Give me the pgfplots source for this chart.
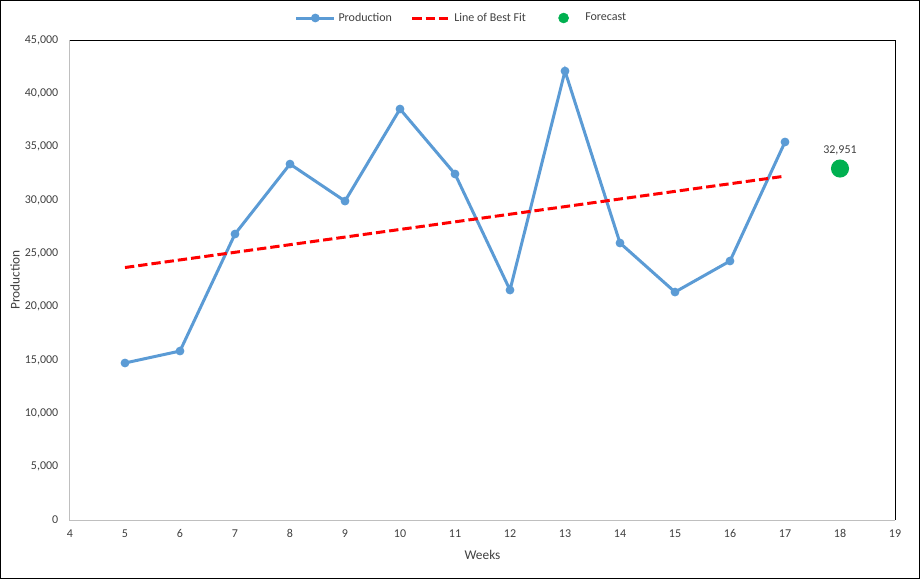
\documentclass[border=0pt]{standalone}
\usepackage{fontspec}
\setmainfont{Carlito}
\usepackage{pgfplots}
\pgfplotsset{compat=1.18}
\definecolor{prodblue}{HTML}{5B9BD5}
\definecolor{fcgreen}{HTML}{00B050}
\definecolor{txt}{HTML}{404040}
\definecolor{axgray}{HTML}{BFBFBF}
\begin{document}
\begin{tikzpicture}
\begin{axis}[
  name=ax,
  at={(0,0)}, anchor=south west,
  scale only axis,
  width=618.75pt, height=360pt,
  xmin=4, xmax=19, ymin=0, ymax=45000,
  xtick={4,5,...,19},
  ytick={0,5000,...,45000},
  scaled y ticks=false,
  /pgf/number format/assume math mode=true,
  /pgf/number format/1000 sep={,},
  major tick length=0pt,
  axis line style={draw=none},
  clip=false,
  tick label style={font=\fontsize{9}{11}\selectfont, text=txt},
  every x tick label/.append style={anchor=center, yshift=-10.1pt},
  every y tick label/.append style={anchor=east, xshift=-5.25pt},
  xlabel={Weeks}, ylabel={Production},
  every axis x label/.style={at={(axis description cs:0.5,0)}, anchor=center, yshift=-26.25pt, font=\fontsize{10}{12}\selectfont, text=txt},
  every axis y label/.style={at={(axis description cs:0,0.5)}, xshift=-41.25pt, rotate=90, anchor=center, font=\fontsize{10}{12}\selectfont, text=txt},
  legend columns=3,
  legend style={draw=none, fill=none, at={(rel axis cs:0.475,1)}, anchor=center, yshift=16.5pt,
    font=\fontsize{9}{11}\selectfont, text=txt,
    /tikz/every even column/.append style={column sep=12pt},
    /tikz/every odd column/.append style={column sep=0pt}},
  legend cell align=left,
  legend image code/.code={\draw[mark repeat=2,mark phase=2,#1] plot coordinates {(0pt,0pt) (14.25pt,0pt) (28.5pt,0pt)};},
]
\draw[axgray, line width=0.75pt] (rel axis cs:0,1) -- (rel axis cs:0,0) -- (rel axis cs:1,0);
\draw[black, line width=0.75pt] (rel axis cs:0,1) -- (rel axis cs:1,1) -- (rel axis cs:1,0);

\addplot[prodblue, line width=2.25pt, mark=*, mark size=2.9pt, mark options={fill=prodblue, draw=prodblue, line width=0.75pt, solid}] coordinates {
(5,14720) (6,15840) (7,26810) (8,33370) (9,29900) (10,38530) (11,32440)
(12,21560) (13,42090) (14,25970) (15,21370) (16,24280) (17,35440)};
\addlegendentry{Production}

\addplot[red, line width=2.25pt, dash pattern=on 7pt off 3pt] coordinates {(5,23670) (17,32237)};
\addlegendentry{Line of Best Fit}

\addplot[only marks, mark=*, mark size=6.4pt, mark options={fill=fcgreen, draw=fcgreen, line width=0.75pt},
  point meta=y, nodes near coords,
  every node near coord/.append style={font=\fontsize{9}{11}\selectfont, text=txt, anchor=center, yshift=13.5pt},
  legend image code/.code={\path[draw=none, fill=none] (0pt,0pt) -- (28.5pt,0pt); \fill[fcgreen] (14.25pt,0pt) circle (3.75pt);}
  ] coordinates {(18,32951)};
\addlegendentry{Forecast}
\end{axis}
\draw[black, line width=0.75pt] ([shift={(-52.125pt,-43.875pt)}]ax.south west) rectangle ([shift={(637.125pt,389.625pt)}]ax.south west);
\end{tikzpicture}
\end{document}
